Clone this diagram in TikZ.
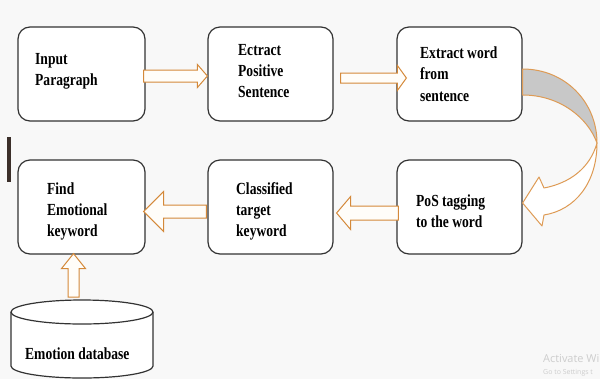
\documentclass[tikz,border=0pt]{standalone}
\usepackage{fontspec}
\setmainfont{Liberation Serif}
\newfontfamily\boxfont[FakeStretch=0.8]{Liberation Serif Bold}
\newfontfamily\wmfont{Open Sans}
\usetikzlibrary{calc}
\definecolor{bg}{HTML}{F8F8F8}
\definecolor{boxline}{HTML}{333333}
\definecolor{arrorange}{HTML}{D4893A}
\definecolor{curvorange}{HTML}{DE9B55}
\definecolor{arrfill}{HTML}{FFFDF9}
\definecolor{bandgray}{HTML}{C8C8C8}
\definecolor{wmgray}{HTML}{CDCDCD}
\definecolor{barcol}{HTML}{3B2F2A}
\tikzset{
  stepbox/.style={draw=boxline, line width=1.2bp, rounded corners=12bp, fill=white,
    minimum width=125bp, minimum height=94bp, inner sep=0pt},
  % anchor base west = baseline of the LAST line of the text
  boxtext/.style={anchor=base west, align=left, inner sep=0pt,
    text=black, font=\boxfont\fontsize{17}{21}\selectfont},
  barrow/.style={draw=arrorange, line width=1bp, fill=arrfill, line join=miter},
  carrow/.style={draw=curvorange, line width=1bp, line join=round},
  wmtext/.style={anchor=base west, inner sep=0pt, text=wmgray},
}
% horizontal block arrow: #1 start, #2 tip, #3 shaft half, #4 head half, #5 signed head offset
\newcommand\harr[5]{\draw[barrow] ($(#1)+(0,-#3)$) -- ($(#2)+(#5,-#3)$) -- ($(#2)+(#5,-#4)$) -- (#2) -- ($(#2)+(#5,#4)$) -- ($(#2)+(#5,#3)$) -- ($(#1)+(0,#3)$) -- cycle;}
% vertical block arrow
\newcommand\varr[5]{\draw[barrow] ($(#1)+(-#3,0)$) -- ($(#2)+(-#3,#5)$) -- ($(#2)+(-#4,#5)$) -- (#2) -- ($(#2)+(#4,#5)$) -- ($(#2)+(#3,#5)$) -- ($(#1)+(#3,0)$) -- cycle;}
\begin{document}
\begin{tikzpicture}[x=1bp,y=-1bp]
\useasboundingbox (0,0) rectangle (600,379);
\fill[bg] (0,0) rectangle (600,379);
% dark bar at left edge
\fill[barcol] (7,137) rectangle (11,182);

% boxes
\node[stepbox, minimum width=127bp] (b1) at (81.5,74) {};
\node[stepbox] (b2) at (270.5,74) {};
\node[stepbox] (b3) at (459.5,74) {};
\node[stepbox, minimum width=127bp] (b4) at (81.5,207) {};
\node[stepbox] (b5) at (270.5,207) {};
\node[stepbox] (b6) at (459.5,207) {};

% database cylinder
\path[draw=boxline, line width=1.2bp, fill=white]
  (11,312) -- (11,366) arc[start angle=180, end angle=0, x radius=71, y radius=12]
  -- (153,312) arc[start angle=0, end angle=-180, x radius=71, y radius=12] -- cycle;
\draw[boxline, line width=1.2bp] (11,312) arc[start angle=180, end angle=0, x radius=71, y radius=12];
\coordinate (dbtop) at (73.5,297);

% straight block arrows
\coordinate (a1s) at ($(b1.east)+(-2,2)$);
\coordinate (a1t) at ($(b2.west)+(0,2)$);
\harr{a1s}{a1t}{6}{11.5}{-10}
\coordinate (a2s) at ($(b2.east)+(7,4)$);
\coordinate (a2t) at ($(b3.west)+(10,4)$);
\harr{a2s}{a2t}{5}{12.5}{-9}
\coordinate (a3s) at ($(b6.west)+(2,6)$);
\coordinate (a3t) at ($(b5.east)+(3,6)$);
\harr{a3s}{a3t}{7}{16.5}{14}
\coordinate (a4s) at ($(b5.west)+(-1,4.5)$);
\coordinate (a4t) at ($(b4.east)+(-2,4.5)$);
\harr{a4s}{a4t}{6.5}{20}{20}
\coordinate (a5t) at ($(b4.south)+(-8,-1)$);
\varr{dbtop}{a5t}{5.5}{12}{15}

% curved arrow from b3 to b6
\coordinate (c1) at ($(b3.east)+(0,-5)$);
\coordinate (c2) at ($(b3.east)+(0,21)$);
\coordinate (cr) at (597,143);
\coordinate (ctip) at ($(b6.east)+(0,-4)$);
\draw[carrow, fill=bandgray] (c1) .. controls (565,69) and (597,102) .. (cr)
  .. controls (588,118) and (560,95) .. (c2) -- cycle;
\draw[carrow, fill=white] (cr) .. controls (597,183) and (575,210) .. (544,215)
  -- (542,226) -- (ctip) -- (539,177) -- (544,188)
  .. controls (570,183) and (590,168) .. (cr) -- cycle;

% texts (positions = baseline of last line)
\node[boxtext] (t1) at (35,85) {Input\\Paragraph};
\node[boxtext] (t2) at (238,97) {Ectract\\Positive\\Sentence};
\node[boxtext, font=\boxfont\fontsize{17}{21.5}\selectfont] (t3) at (420,101) {Extract word\\from\\sentence};
\node[boxtext] (t4) at (47,236) {Find\\Emotional\\keyword};
\node[boxtext] (t5) at (236,236) {Classified\\target\\keyword};
\node[boxtext] (t6) at (416,227) {PoS tagging\\to the word};
\node[boxtext] (t7) at (25,359) {Emotion database};

% watermark (as much as the screenshot shows)
\node[wmtext, font=\wmfont\fontsize{11}{12}\selectfont] (wm1) at (543,362) {Activate Wi};
\node[wmtext, font=\wmfont\fontsize{7}{8}\selectfont] (wm2) at (543,374) {Go to Settings t};
\end{tikzpicture}
\end{document}
